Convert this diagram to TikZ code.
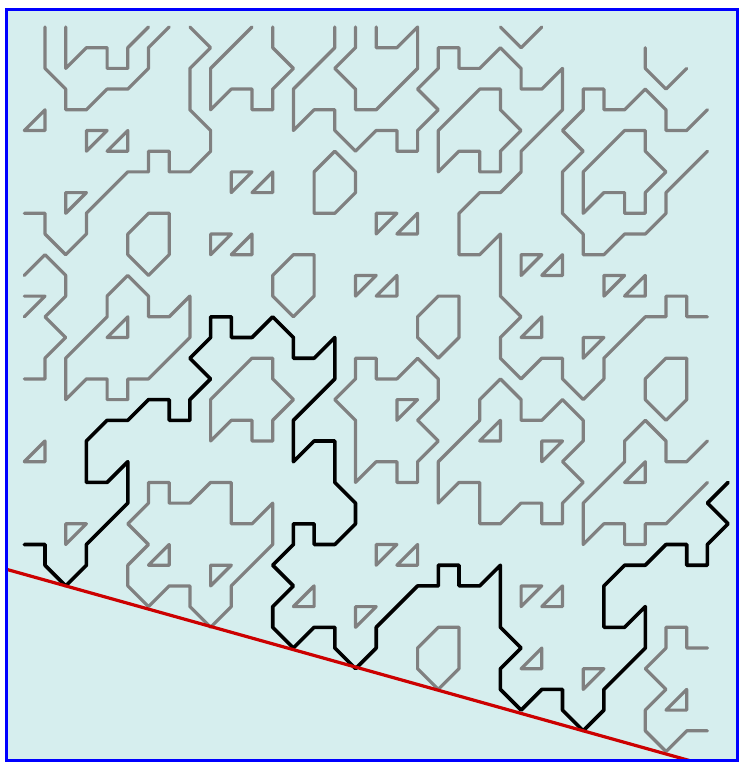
\documentclass[tikz,border=0pt]{standalone}
\usetikzlibrary{calc}
\definecolor{bgc}{RGB}{214,238,238}
\definecolor{grl}{RGB}{128,128,128}
\definecolor{redl}{RGB}{204,0,0}
\definecolor{frm}{RGB}{0,0,255}
\tikzset{
  gl/.style={draw=grl, line width=3.2pt, line join=round, line cap=round},
  bl/.style={draw=black, line width=3.6pt, line join=round, line cap=round},
  rl/.style={draw=redl, line width=3.2pt},
}
\begin{document}
\begin{tikzpicture}[x=1pt,y=-1pt]
\useasboundingbox (0,0) rectangle (738,762);
\fill[white] (0,0) rectangle (738,762);
\fill[bgc] (6,9.5) rectangle (737,760.5);
\begin{scope}
\clip (6,9.5) rectangle (737,760.5);
\begin{scope}[shift={(24.3,27)}, x=20.7pt, y=-20.7pt]
% gray open and closed paths
\draw[gl] (1,0)--(1,2)--(2,3)--(2,4)--(3,4)--(4,3)--(5,3)--(6,2)--(6,1)--(7,0);
\draw[gl] (2,0)--(2,2)--(3,1)--(4,1)--(4,2)--(5,2)--(5,1)--(6,0);
\draw[gl] (8,0)--(9,1)--(8,2)--(8,4)--(9,5)--(9,6)--(8,7)--(7,7)--(7,6)--(6,6)--(6,7)--(5,7)--(4,8)--(3,9)--(3,10)--(2,11)--(1,10)--(1,9)--(0,9);
\draw[gl] (11,0)--(9,2)--(9,4)--(10,3)--(11,3)--(11,4)--(12,4)--(12,3)--(13,2)--(12,1)--(12,0);
\draw[gl] (15,0)--(15,1)--(13,3)--(13,5)--(14,4)--(15,4)--(15,5)--(16,6)--(17,5)--(18,5)--(18,6)--(19,6)--(19,5)--(20,4)--(19,3)--(20,2)--(20,1)--(21,1)--(21,2)--(22,2)--(23,1)--(24,2)--(24,3)--(25,3)--(26,2)--(26,4)--(24,6)--(24,7)--(23,8)--(22,8)--(21,9)--(21,11)--(22,11)--(23,10)--(23,13)--(24,14)--(23,15)--(23,16)--(24,17)--(25,16)--(26,16)--(26,17)--(27,18)--(28,17)--(28,16)--(30,14)--(31,14)--(31,13)--(32,13)--(32,14)--(33,14);
\draw[gl] (16,0)--(16,1)--(15,2)--(16,3)--(16,4)--(17,4)--(19,2)--(19,0)--(18,1)--(17,1)--(17,0);
\draw[gl] (23,0)--(24,1)--(25,0);
\draw[gl] (30,1)--(30,2)--(31,3)--(32,2);
\draw[gl] (20,7)--(20,5)--(22,3)--(23,3)--(23,4)--(24,5)--(23,6)--(23,7)--(22,7)--(22,6)--(21,6)--cycle;
\draw[gl] (33,4)--(32,5)--(31,5)--(31,4)--(30,3)--(29,4)--(28,4)--(28,3)--(27,3)--(27,4)--(26,5)--(27,6)--(26,7)--(26,9)--(27,10)--(27,11)--(28,11)--(29,10)--(30,10)--(31,9)--(31,8)--(33,6);
\draw[gl] (27,7)--(27,9)--(28,8)--(29,8)--(29,9)--(30,9)--(30,8)--(31,7)--(30,6)--(30,5)--(29,5)--cycle;
\draw[gl] (14,7)--(15,6)--(16,7)--(16,8)--(15,9)--(14,9)--cycle;
\draw[gl] (12,12)--(13,11)--(14,11)--(14,13)--(13,14)--(12,13)--cycle;
\draw[gl] (19,14)--(20,13)--(21,13)--(21,15)--(20,16)--(19,15)--cycle;
\draw[gl] (5,10)--(6,9)--(7,9)--(7,11)--(6,12)--(5,11)--cycle;
\draw[gl] (30,17)--(31,16)--(32,16)--(32,18)--(31,19)--(30,18)--cycle;
\draw[gl] (19,30)--(20,29)--(21,29)--(21,31)--(20,32)--(19,31)--cycle;
\draw[gl] (0,12)--(1,11)--(2,12)--(2,13)--(1,14)--(2,15)--(1,16)--(1,17)--(0,17);
\draw[gl] (0,13)--(1,13)--(0,14);
\draw[gl] (2,18)--(2,16)--(4,14)--(4,13)--(5,12)--(6,13)--(6,14)--(7,14)--(8,13)--(8,15)--(6,17)--(5,17)--(5,18)--(4,18)--(4,17)--(3,17)--cycle;
\draw[gl] (12,23)--(12,25)--(10,27)--(10,28)--(9,29)--(8,28)--(8,27)--(7,27)--(6,28)--(5,27)--(5,26)--(6,25)--(5,24)--(6,23)--(6,22)--(7,22)--(7,23)--(8,23)--(9,22)--(10,22)--(10,24)--(11,24)--cycle;
\draw[gl] (9,20)--(9,18)--(10,17)--(11,16)--(12,16)--(12,17)--(13,18)--(12,19)--(12,20)--(11,20)--(11,19)--(10,19)--cycle;
\draw[gl] (16,16)--(17,16)--(17,17)--(18,17)--(19,16)--(20,17)--(20,18)--(19,19)--(20,20)--(19,21)--(19,22)--(18,22)--(18,21)--(17,21)--(16,22)--(16,19)--(15,18)--(16,17)--cycle;
\draw[gl] (22,19)--(22,18)--(23,17)--(24,18)--(24,19)--(25,19)--(26,18)--(27,19)--(27,20)--(26,21)--(27,22)--(26,23)--(26,24)--(25,24)--(25,23)--(24,23)--(23,24)--(22,24)--(22,22)--(21,22)--(20,23)--(20,21)--cycle;
\draw[gl] (33,20)--(32,21)--(31,21)--(31,20)--(30,19)--(29,20)--(29,21)--(27,23)--(27,25)--(28,24)--(29,24)--(29,25)--(30,25)--(30,24)--(31,24)--(33,22);
\draw[gl] (33,30)--(32,30)--(32,29)--(31,29)--(31,30)--(30,31)--(31,32)--(30,33)--(30,34)--(31,35)--(32,34)--(33,34);
% small triangles, right angle top-left
\foreach \a/\b in {3/5,2/8,10/7,9/10,17/9,16/12,24/11,28/12,27/15,18/18,25/20,2/24,9/26,17/25,16/28,24/27,27/31}
  \draw[gl] (\a,\b) -- (\a+1,\b) -- (\a,\b+1) -- cycle;
% small triangles, right angle bottom-right
\foreach \a/\b in {0/4,4/5,11/7,10/10,18/9,17/12,25/11,29/12,24/14,4/14,0/20,6/25,13/27,18/25,22/19,29/21,25/27,24/30,31/32}
  \draw[gl] (\a+1,\b) -- (\a+1,\b+1) -- (\a,\b+1) -- cycle;
% black path
\draw[bl] (0,25)--(1,25)--(1,26)--(2,27)--(3,26)--(3,25)--(5,23)--(5,21)--(4,22)--(3,22)--(3,20)--(4,19)--(5,19)--(6,18)--(7,18)--(7,19)--(8,19)--(8,18)--(9,17)--(8,16)--(9,15)--(9,14)--(10,14)--(10,15)--(11,15)--(12,14)--(13,15)--(13,16)--(14,16)--(15,15)--(15,17)--(13,19)--(13,21)--(14,20)--(15,20)--(15,22)--(16,23)--(16,24)--(15,25)--(14,25)--(14,24)--(13,24)--(13,25)--(12,26)--(13,27)--(12,28)--(12,29)--(13,30)--(14,29)--(15,29)--(15,30)--(16,31)--(17,30)--(17,29)--(19,27)--(20,27)--(20,26)--(21,26)--(21,27)--(22,27)--(23,26)--(23,29)--(24,30)--(23,31)--(23,32)--(24,33)--(25,32)--(26,32)--(26,33)--(27,34)--(28,33)--(28,32)--(30,30)--(30,28)--(29,29)--(28,29)--(28,27)--(29,26)--(30,26)--(31,25)--(32,25)--(32,26)--(33,26)--(33,25)--(34,24)--(33,23)--(34,22);
% red line
\coordinate (r1) at (-2,25.88);
\coordinate (r2) at (35,36.24);
\draw[rl] (r1) -- (r2);
\end{scope}
\end{scope}
\draw[frm, line width=3pt] (6,9.5) rectangle (737,760.5);
\end{tikzpicture}
\end{document}
